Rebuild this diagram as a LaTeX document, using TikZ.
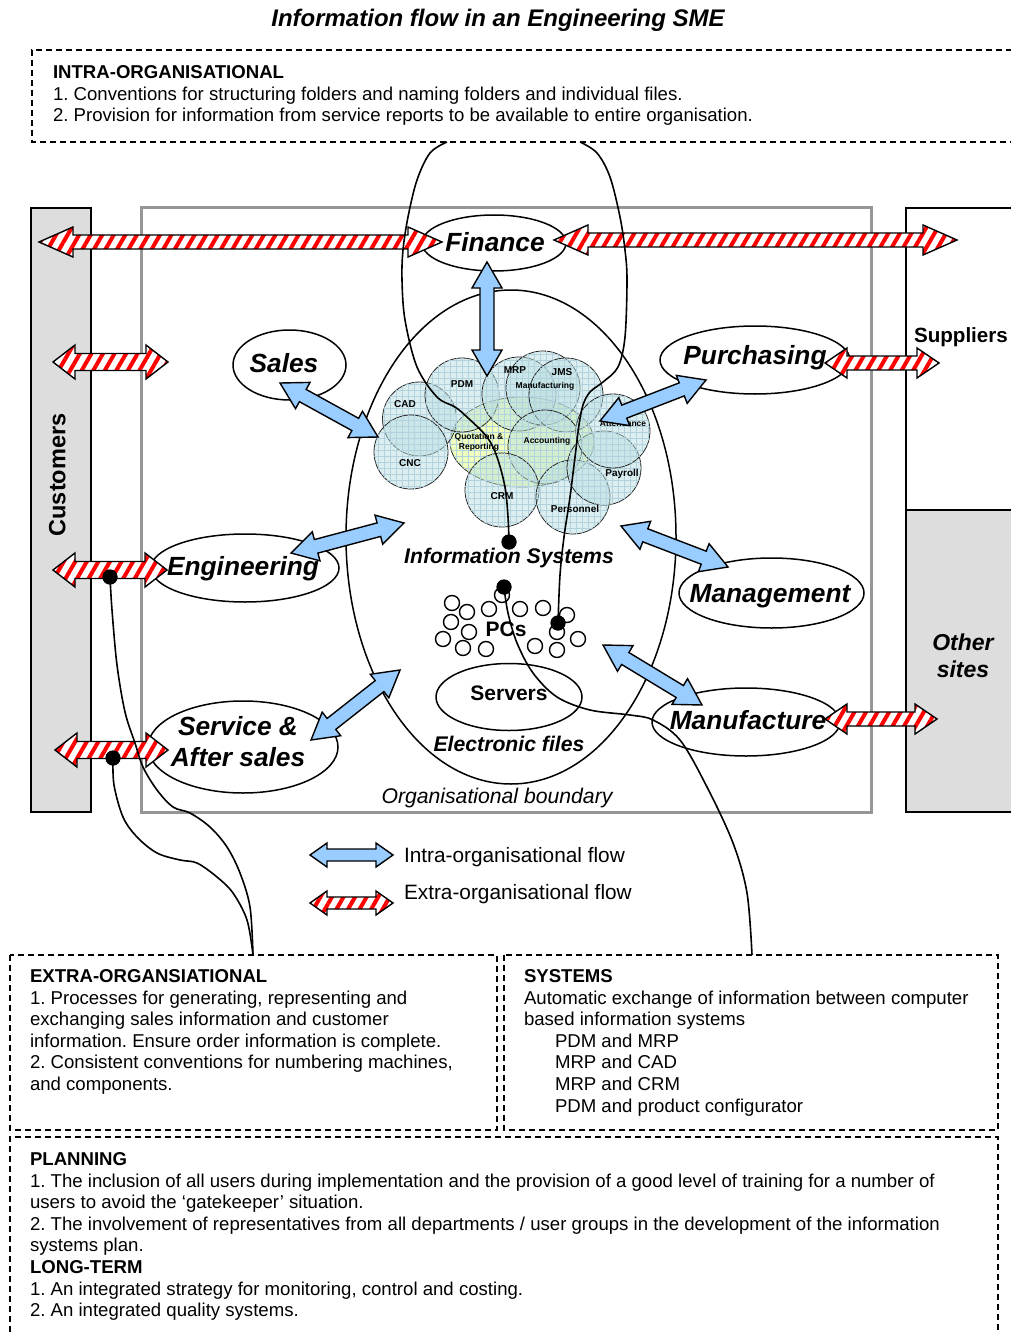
\documentclass[tikz,border=0pt]{standalone}
\usepackage{fontspec}
\setmainfont{Liberation Sans}
\usetikzlibrary{calc,patterns.meta,shapes.geometric}
\frenchspacing
\definecolor{ablue}{RGB}{153,204,255}
\definecolor{barg}{RGB}{221,221,221}
\definecolor{bndg}{RGB}{150,150,150}
\definecolor{cfill}{RGB}{185,222,224}
\definecolor{cgrid}{RGB}{178,210,222}
\definecolor{yfill}{RGB}{238,255,190}
\newcommand\fsz[2]{\fontsize{#1}{#2}\selectfont}
\newcommand\fatarrow[6]{%
  \path[#1] (#2)
    -- ($(#2)!#4!(#3)!#5!90:(#3)$) -- ($(#2)!#4!(#3)!#6!90:(#3)$)
    -- ($(#3)!#4!(#2)!#6!-90:(#2)$) -- ($(#3)!#4!(#2)!#5!-90:(#2)$)
    -- (#3)
    -- ($(#3)!#4!(#2)!#5!90:(#2)$) -- ($(#3)!#4!(#2)!#6!90:(#2)$)
    -- ($(#2)!#4!(#3)!#6!-90:(#3)$) -- ($(#2)!#4!(#3)!#5!-90:(#3)$)
    -- cycle;}
\begin{document}
\begin{tikzpicture}[x=1pt,y=-1pt,
  every node/.style={inner sep=0pt, outer sep=0pt},
  dbox/.style={dash pattern=on 6pt off 4pt, line width=1.3pt},
  dept/.style={ellipse, draw, line width=1.5pt, fill=white},
  deptlab/.style={font=\fsz{26.3}{31}\bfseries\itshape, text height=18.8pt, text depth=0pt},
  sys/.style={circle, draw=black!85, line width=0.8pt, minimum size=74pt, fill=cfill, fill opacity=0.5,
     postaction={pattern={Hatch[angle=0,distance=6pt,line width=0.3pt]}, pattern color=cgrid}},
  syslab/.style={font=\fsz{10}{12}\bfseries, text height=7.2pt, text depth=0pt},
  syssm/.style={font=\fsz{8.5}{10}\bfseries, text height=6.1pt, text depth=0pt},
  midlab/.style={font=\fsz{21.2}{25}\bfseries\itshape, text height=15.2pt, text depth=0pt},
  pc/.style={circle, draw, line width=1.4pt, minimum size=15pt, fill=white},
  dot/.style={circle, fill=black, minimum size=15pt},
  link/.style={line width=1.6pt},
  bluearr/.style={fill=ablue, draw=black, line width=1.4pt},
  redarr/.style={draw=black, line width=1.4pt, preaction={fill=white},
     pattern={Lines[angle=60,distance=10pt,line width=4pt]}, pattern color=red},
  tbox/.style={anchor=north west, align=left, font=\fsz{18.6}{21.6}},
  legtext/.style={anchor=west, font=\fsz{20.8}{24}, text height=14.9pt, text depth=0pt},
]
\useasboundingbox (0,0) rectangle (1010,1332);

\node[font=\fsz{24}{28}\bfseries\itshape, text height=17.2pt, text depth=0pt] (title) at (498,18) {Information flow in an Engineering SME};

% top box
\draw[dbox] (1012,50) -- (32,50) -- (32,142) -- (1012,142);
\node[tbox] (intra) at (53,65.5) {\textbf{INTRA-ORGANISATIONAL}\\
1. Conventions for structuring folders and naming folders and individual files.\\
2. Provision for information from service reports to be available to entire organisation.};
\coordinate (topL) at (447,142);
\coordinate (topR) at (580,142);

% side boxes and boundary
\draw[line width=1.5pt, fill=barg] (31,208) rectangle (91,812);
\node[rotate=90, font=\fsz{23.5}{28}\bfseries, text height=16.8pt, text depth=0pt] (cust) at (57,475) {Customers};
\draw[bndg, line width=3pt] (141,208) rectangle (871,812);
\draw[line width=1.5pt] (1012,208) -- (906,208) -- (906,510);
\draw[line width=1.5pt, fill=barg] (1012,510) -- (906,510) -- (906,812) -- (1012,812);
\draw[line width=2.2pt] (906,510) -- (1012,510);
\node[anchor=west, font=\fsz{20.6}{24}\bfseries, text height=14.7pt, text depth=0pt] (supp) at (914,335) {Suppliers};
\node[align=center, font=\fsz{23}{27}\bfseries\itshape] (other) at (963,656) {Other\\sites};
\node[font=\fsz{21.2}{25}\itshape, text height=15.2pt, text depth=0pt] (orgb) at (497,796) {Organisational boundary};

% information systems ellipse
\node[ellipse, draw, line width=1.5pt, minimum width=330pt, minimum height=494pt] (IS) at (511,537) {};
\node[ellipse, draw, line width=1.5pt, minimum width=146pt, minimum height=67pt] (serv) at (509,697) {};

% cluster
\node[ellipse, draw=black!85, line width=0.8pt, minimum width=144pt, minimum height=90pt, fill=yfill,
  postaction={pattern={Hatch[angle=0,distance=6pt,line width=0.3pt]}, pattern color=cgrid}] (qr) at (522,442) {};
\node[sys] (cCAD) at (419.5,419) {};
\node[sys] (cCNC) at (411,452) {};
\node[sys] (cPDM) at (462,395) {};
\node[sys] (cMRP) at (519,394) {};
\node[sys] (cJMS) at (543,388) {};
\node[sys] (cMAN) at (566,395) {};
\node[sys] (cACC) at (545,447) {};
\node[sys] (cCRM) at (502,490) {};
\node[sys] (cPER) at (573,497) {};
\node[sys] (cPAY) at (604,468) {};
\node[sys] (cATT) at (613,431) {};
\node[syslab] (lPDM) at (462,384) {PDM};
\node[syslab] (lCAD) at (405,404) {CAD};
\node[syslab] (lCNC) at (410,463) {CNC};
\node[syslab] (lMRP) at (515,370) {MRP};
\node[syslab] (lJMS) at (562,372) {JMS};
\node[syssm] (lMAN) at (545,385) {Manufacturing};
\node[syssm, align=center, text height=, text depth=] (lQR) at (479,442) {Quotation \&\\Reporting};
\node[syssm] (lACC) at (547,440) {Accounting};
\node[syslab] (lCRM) at (502,496) {CRM};
\node[syslab] (lPER) at (575,509) {Personnel};
\node[syslab] (lPAY) at (622,473) {Payroll};
\node[syssm] (lATT) at (623,423) {Attendance};

% PCs
\foreach \x/\y [count=\i] in {452/603,467/612,489/609,502/595,520/609,543/608,567/615,451/622,469/632,443/639,463/648,486/649,535/646,557/632,557/650,578/639}
  \node[pc] (pc\i) at (\x,\y) {};
\node[font=\fsz{21}{25}\bfseries, text height=15pt, text depth=0pt] (pcs) at (506,629) {PCs};
\node[midlab] (isT) at (509,556) {Information Systems};
\node[midlab] (efT) at (509,744) {Electronic files};
\node[font=\fsz{21}{25}\bfseries, text height=15pt, text depth=0pt] (servT) at (509,693) {Servers};

% departments
\node[dept, minimum width=144pt, minimum height=56pt] (fin) at (494,243) {};
\node[dept, minimum width=113pt, minimum height=70pt] (sal) at (289.5,365) {};
\node[dept, minimum width=190pt, minimum height=68pt] (pur) at (755,360) {};
\node[dept, minimum width=188pt, minimum height=68pt] (eng) at (245,568) {};
\node[dept, minimum width=185pt, minimum height=70pt] (mgt) at (771.5,593) {};
\node[dept, minimum width=190pt, minimum height=92pt] (svc) at (243,747) {};
\node[dept, minimum width=188pt, minimum height=68pt] (mfg) at (746,722) {};

% blue arrows
\coordinate (b1a) at (487,262); \coordinate (b1b) at (487,376);
\coordinate (b2a) at (280,383); \coordinate (b2b) at (378,437);
\coordinate (b3a) at (706,380); \coordinate (b3b) at (600,421);
\coordinate (b4a) at (291,553); \coordinate (b4b) at (404,523);
\coordinate (b5a) at (621,526); \coordinate (b5b) at (728,567);
\coordinate (b6a) at (311,740); \coordinate (b6b) at (400,670);
\coordinate (b7a) at (603,645); \coordinate (b7b) at (702,705);
\fatarrow{bluearr}{b1a}{b1b}{26pt}{15pt}{7pt}
\fatarrow{bluearr}{b2a}{b2b}{26pt}{15pt}{7pt}
\fatarrow{bluearr}{b3a}{b3b}{26pt}{15pt}{7pt}
\fatarrow{bluearr}{b4a}{b4b}{26pt}{15pt}{7pt}
\fatarrow{bluearr}{b5a}{b5b}{26pt}{15pt}{7pt}
\fatarrow{bluearr}{b6a}{b6b}{26pt}{15pt}{7pt}
\fatarrow{bluearr}{b7a}{b7b}{26pt}{15pt}{7pt}

% red arrows
\coordinate (r1a) at (39,242); \coordinate (r1b) at (442,242);
\coordinate (r2a) at (554,240); \coordinate (r2b) at (957,240);
\coordinate (r3a) at (53,362); \coordinate (r3b) at (168,362);
\coordinate (r4a) at (825,363); \coordinate (r4b) at (939,363);
\coordinate (r5a) at (53,570); \coordinate (r5b) at (167,570);
\coordinate (r6a) at (55,750); \coordinate (r6b) at (168,750);
\coordinate (r7a) at (825,719); \coordinate (r7b) at (937,719);
\fatarrow{redarr}{r1a}{r1b}{34pt}{15pt}{7pt}
\fatarrow{redarr}{r2a}{r2b}{34pt}{15pt}{7pt}
\fatarrow{redarr}{r3a}{r3b}{22pt}{17pt}{8.5pt}
\fatarrow{redarr}{r4a}{r4b}{22pt}{15pt}{7pt}
\fatarrow{redarr}{r5a}{r5b}{22pt}{17pt}{8.5pt}
\fatarrow{redarr}{r6a}{r6b}{22pt}{17pt}{8.5pt}
\fatarrow{redarr}{r7a}{r7b}{22pt}{15pt}{7pt}

% department labels
\node[deptlab] (finT) at (495,242) {Finance};
\node[deptlab] (salT) at (284,363) {Sales};
\node[deptlab] (purT) at (755,355) {Purchasing};
\node[deptlab] (engT) at (243,566) {Engineering};
\node[deptlab] (mgtT) at (770,593) {Management};
\node[font=\fsz{26.3}{31}\bfseries\itshape, align=center] (svcT) at (238,741.5) {Service \&\\After sales};
\node[deptlab] (mfgT) at (748,720) {Manufacture};

% dots and links
\node[dot] (dE) at (110,577) {};
\node[dot] (dS) at (113,758) {};
\node[dot] (dIS) at (509,542) {};
\node[dot] (dPC) at (504,587) {};
\node[dot] (dPC2) at (558,623) {};
\coordinate (bxL) at (253,955);
\coordinate (bxR) at (752,955);
\draw[link] plot[smooth, tension=0.55] coordinates {(topL) (430,153) (417,180) (408,217) (403,250) (402,280) (405,320) (417,367) (437,397) (455,407) (467,417) (487,437) (497,457) (505,487) (508,517) (dIS)};
\draw[link] plot[smooth, tension=0.55] coordinates {(topR) (597,153) (610,177) (620,217) (625,250) (627,280) (625,337) (618,367) (603,382) (590,392) (583,405) (579,425) (575,457) (570,497) (564,537) (560,575) (dPC2)};
\draw[link] plot[smooth, tension=0.55] coordinates {(dE) (112,610) (117,665) (125,712) (135,743) (143,767) (157,790) (173,807) (190,813) (210,827) (227,847) (240,873) (250,907) (bxL)};
\draw[link] plot[smooth, tension=0.55] coordinates {(dS) (114,785) (123,817) (137,837) (157,853) (180,860) (197,863) (217,877) (233,893) (247,920) (bxL)};
\draw[link] plot[smooth, tension=0.55] coordinates {(dPC) (508,613) (517,643) (533,673) (557,697) (590,710) (630,715) (653,720) (680,740) (707,787) (733,843) (747,893) (bxR)};
\node[dot] at (dE) {};
\node[dot] at (dS) {};
\node[dot] at (dIS) {};
\node[dot] at (dPC) {};
\node[dot] at (dPC2) {};

% legend
\coordinate (l1a) at (310,855); \coordinate (l1b) at (393,855);
\coordinate (l2a) at (310,903); \coordinate (l2b) at (393,903);
\fatarrow{bluearr}{l1a}{l1b}{17pt}{12pt}{6pt}
\fatarrow{redarr}{l2a}{l2b}{17pt}{12pt}{6pt}
\node[legtext] (leg1) at (404,855) {Intra-organisational flow};
\node[legtext] (leg2) at (404,892) {Extra-organisational flow};

% bottom boxes
\draw[dbox] (10,955) rectangle (497,1130);
\draw[dbox] (504,955) rectangle (998,1130);
\draw[dbox] (998,1340) -- (998,1137) -- (10,1137) -- (10,1340);
\node[tbox] (extra) at (30,969.5) {\textbf{EXTRA-ORGANSIATIONAL}\\
1. Processes for generating, representing and\\
exchanging sales information and customer\\
information. Ensure order information is complete.\\
2. Consistent conventions for numbering machines,\\
and components.};
\node[tbox] (systems) at (524,969.5) {\textbf{SYSTEMS}\\
Automatic exchange of information between computer\\
based information systems\\
\hspace*{31pt}PDM and MRP\\
\hspace*{31pt}MRP and CAD\\
\hspace*{31pt}MRP and CRM\\
\hspace*{31pt}PDM and product configurator};
\node[tbox] (planning) at (30,1152.5) {\textbf{PLANNING}\\
1. The inclusion of all users during implementation and the provision of a good level of training for a number of\\
users to avoid the ‘gatekeeper’ situation.\\
2. The involvement of representatives from all departments / user groups in the development of the information\\
systems plan.\\
\textbf{LONG-TERM}\\
1. An integrated strategy for monitoring, control and costing.\\
2. An integrated quality systems.};
\end{tikzpicture}
\end{document}
